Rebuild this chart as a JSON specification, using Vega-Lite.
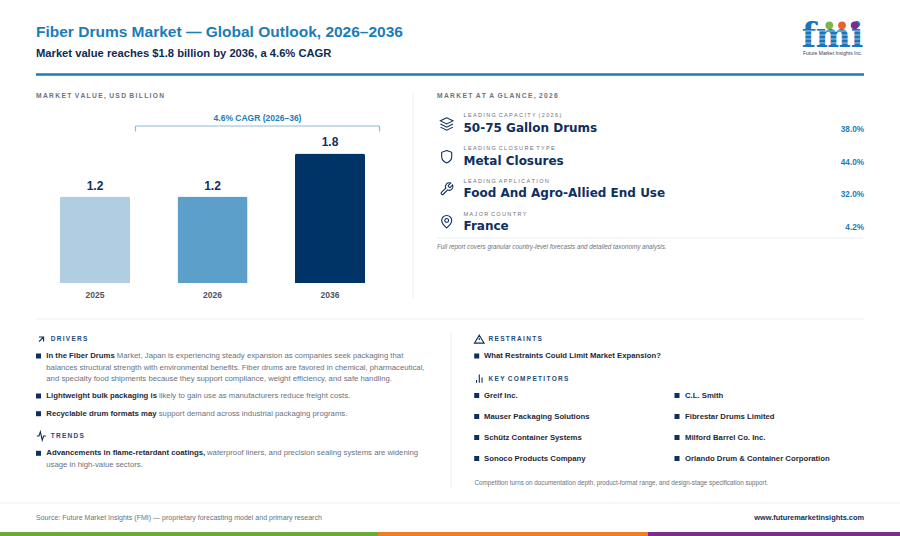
{
"$schema":"https://vega.github.io/schema/vega-lite/v6.json",
"width":900,"height":536,"padding":0,"autosize":{"type":"none"},
"background":"#ffffff",
"config":{"font":"Liberation Sans","view":{"stroke":null}},
"resolve":{"scale":{"x":"independent","y":"independent","color":"independent","shape":"independent"}},
"layer":[
{"data":{"values":[{"name":"green","start":1,"end":2,"top":1,"bottom":2},{"name":"orange","start":2,"end":3,"top":1,"bottom":2},{"name":"purple","start":3,"end":4,"top":1,"bottom":2}]},
 "mark":{"type":"rect"},
 "encoding":{"x":{"field":"start","type":"quantitative","scale":{"domain":[1,2,3,4],"range":[0,378,648,900]},"axis":null},"x2":{"field":"end"},
 "y":{"field":"top","type":"quantitative","scale":{"domain":[1,2],"range":[532,536]},"axis":null},"y2":{"field":"bottom"},
 "color":{"field":"name","type":"nominal","scale":{"domain":["green","orange","purple"],"range":["#6aaa3a","#ee7d23","#7b2d8b"]},"legend":null}}},
{"data":{"values":[{"a":3,"b":3,"c":1,"d":3},{"a":2,"b":6,"c":4,"d":4},{"a":5,"b":5,"c":5,"d":6},{"a":1,"b":7,"c":7,"d":7},{"a":4,"b":6,"c":2,"d":2}]},
 "mark":{"type":"rule","stroke":"#eceef0","strokeWidth":1},
 "encoding":{"x":{"field":"a","type":"quantitative","scale":{"domain":[1,2,3,4,5,6,7],"range":[0,36,413,437,451,864,900]},"axis":null},"x2":{"field":"b"},
 "y":{"field":"c","type":"quantitative","scale":{"domain":[1,2,3,4,5,6,7],"range":[93,238,298,319,332,488,503]},"axis":null},"y2":{"field":"d"}}},
{"data":{"values":[{"a":1,"b":2,"c":1,"d":1}]},
 "mark":{"type":"rule","stroke":"#1a7db8","strokeWidth":2.5},
 "encoding":{"x":{"field":"a","type":"quantitative","scale":{"domain":[1,2],"range":[36,864]},"axis":null},"x2":{"field":"b"},
 "y":{"field":"c","type":"quantitative","scale":{"domain":[1,2],"range":[74.5,75.5]},"axis":null},"y2":{"field":"d"}}},
{"data":{"values":[{"a":1,"b":2,"c":1,"d":1},{"a":1,"b":1,"c":1,"d":2},{"a":2,"b":2,"c":1,"d":2}]},
 "mark":{"type":"rule","stroke":"#8dbcd6","strokeWidth":1.2},
 "encoding":{"x":{"field":"a","type":"quantitative","scale":{"domain":[1,2],"range":[135.5,379.5]},"axis":null},"x2":{"field":"b"},
 "y":{"field":"c","type":"quantitative","scale":{"domain":[1,2],"range":[126,131.5]},"axis":null},"y2":{"field":"d"}}},
{"data":{"values":[{"year":"2025","value":1.2},{"year":"2026","value":1.2},{"year":"2036","value":1.8}]},
 "encoding":{"x":{"field":"year","type":"ordinal","scale":{"type":"band","domain":["2025","2026","2036"],"range":[36.5,388.5],"paddingInner":0.404,"paddingOuter":0.2},
   "axis":{"title":null,"offset":-253,"domain":false,"ticks":false,"labelAngle":0,"labelFont":"Liberation Sans","labelFontWeight":"bold","labelFontSize":8.5,"labelColor":"#4b5563","labelPadding":7}},
  "y":{"field":"value","type":"quantitative","scale":{"domain":[0,2],"range":[283,139]},"axis":null}},
 "layer":[
  {"mark":{"type":"bar","cornerRadiusTopLeft":2,"cornerRadiusTopRight":2},
   "encoding":{"color":{"field":"year","type":"nominal","scale":{"domain":["2025","2026","2036"],"range":["#b0cde2","#5c9fcb","#003366"]},"legend":null}}},
  {"mark":{"type":"text","fontWeight":"bold","fontSize":12,"fill":"#0f2f5f","baseline":"bottom","dy":-4},
   "encoding":{"text":{"field":"value","type":"quantitative","format":".1f"}}}
 ]},
{"data":{"values":[{"c":1,"r":1,"label":"Fiber Drums Market \u2014 Global Outlook, 2026\u20132036"}]},
 "mark":{"type":"text","align":"left","baseline":"middle","fontWeight":"bold","fontSize":15.5,"fill":"#1a7db8"},
 "encoding":{"x":{"field":"c","type":"quantitative","scale":{"domain":[1,2],"range":[36,37]},"axis":null},
 "y":{"field":"r","type":"quantitative","scale":{"domain":[1,2],"range":[32,33]},"axis":null},"text":{"field":"label"}}},
{"data":{"values":[{"c":1,"r":1,"label":"Market value reaches $1.8 billion by 2036, a 4.6% CAGR"}]},
 "mark":{"type":"text","align":"left","baseline":"middle","fontWeight":"bold","fontSize":11.2,"fill":"#0f2a52"},
 "encoding":{"x":{"field":"c","type":"quantitative","scale":{"domain":[1,2],"range":[36,37]},"axis":null},
 "y":{"field":"r","type":"quantitative","scale":{"domain":[1,2],"range":[53.5,54.5]},"axis":null},"text":{"field":"label"}}},
{"data":{"values":[{"c":1,"r":1,"label":"4.6% CAGR (2026\u201336)"}]},
 "mark":{"type":"text","align":"center","baseline":"middle","fontWeight":"bold","fontSize":8.5,"fill":"#1a7db8"},
 "encoding":{"x":{"field":"c","type":"quantitative","scale":{"domain":[1,2],"range":[257.5,258.5]},"axis":null},
 "y":{"field":"r","type":"quantitative","scale":{"domain":[1,2],"range":[117.5,118.5]},"axis":null},"text":{"field":"label"}}},
{"data":{"values":[
 {"c":1,"r":1,"label":"M\u2009A\u2009R\u2009K\u2009E\u2009T\u2002V\u2009A\u2009L\u2009U\u2009E\u2009,\u2002U\u2009S\u2009D\u2002B\u2009I\u2009L\u2009L\u2009I\u2009O\u2009N"},
 {"c":2,"r":1,"label":"M\u2009A\u2009R\u2009K\u2009E\u2009T\u2002A\u2009T\u2002A\u2002G\u2009L\u2009A\u2009N\u2009C\u2009E\u2009,\u20022\u20090\u20092\u20096"}]},
 "mark":{"type":"text","align":"left","baseline":"middle","fontWeight":"bold","fontSize":6.7,"fill":"#6b7280"},
 "encoding":{"x":{"field":"c","type":"quantitative","scale":{"domain":[1,2],"range":[36,437]},"axis":null},
 "y":{"field":"r","type":"quantitative","scale":{"domain":[1,2],"range":[96,97]},"axis":null},"text":{"field":"label"}}},
{"data":{"values":[
 {"r":1,"label":"L\u2005E\u2005A\u2005D\u2005I\u2005N\u2005G\u2002C\u2005A\u2005P\u2005A\u2005C\u2005I\u2005T\u2005Y\u2002(\u20052\u20050\u20052\u20056\u2005)"},
 {"r":2,"label":"L\u2005E\u2005A\u2005D\u2005I\u2005N\u2005G\u2002C\u2005L\u2005O\u2005S\u2005U\u2005R\u2005E\u2002T\u2005Y\u2005P\u2005E"},
 {"r":3,"label":"L\u2005E\u2005A\u2005D\u2005I\u2005N\u2005G\u2002A\u2005P\u2005P\u2005L\u2005I\u2005C\u2005A\u2005T\u2005I\u2005O\u2005N"},
 {"r":4,"label":"M\u2005A\u2005J\u2005O\u2005R\u2002C\u2005O\u2005U\u2005N\u2005T\u2005R\u2005Y"}]},
 "mark":{"type":"text","align":"left","baseline":"middle","fontSize":5.5,"fill":"#6b7280"},
 "encoding":{"x":{"datum":1,"type":"quantitative","scale":{"domain":[1,2],"range":[463.5,464.5]},"axis":null},
 "y":{"field":"r","type":"quantitative","scale":{"domain":[1,2,3,4],"range":[115,148,181,214]},"axis":null},"text":{"field":"label"}}},
{"data":{"values":[
 {"r":1,"label":"50-75 Gallon Drums"},
 {"r":2,"label":"Metal Closures"},
 {"r":3,"label":"Food And Agro-Allied End Use"},
 {"r":4,"label":"France"}]},
 "mark":{"type":"text","align":"left","baseline":"middle","font":"DejaVu Sans","fontWeight":"bold","fontSize":12,"fill":"#0f2f5f"},
 "encoding":{"x":{"datum":1,"type":"quantitative","scale":{"domain":[1,2],"range":[463.5,464.5]},"axis":null},
 "y":{"field":"r","type":"quantitative","scale":{"domain":[1,2,3,4],"range":[127.5,160.5,193,226]},"axis":null},"text":{"field":"label"}}},
{"data":{"values":[
 {"r":1,"share":"38.0%"},
 {"r":2,"share":"44.0%"},
 {"r":3,"share":"32.0%"},
 {"r":4,"share":"4.2%"}]},
 "mark":{"type":"text","align":"right","baseline":"middle","fontWeight":"bold","fontSize":8.2,"fill":"#1a7db8"},
 "encoding":{"x":{"datum":1,"type":"quantitative","scale":{"domain":[1,2],"range":[864,865]},"axis":null},
 "y":{"field":"r","type":"quantitative","scale":{"domain":[1,2,3,4],"range":[129.5,162.5,195,228]},"axis":null},"text":{"field":"share"}}},
{"data":{"values":[{"c":1,"r":1,"label":"Full report covers granular country-level forecasts and detailed taxonomy analysis."}]},
 "mark":{"type":"text","align":"left","baseline":"middle","fontStyle":"italic","fontSize":6.3,"fill":"#6b7280"},
 "encoding":{"x":{"field":"c","type":"quantitative","scale":{"domain":[1,2],"range":[437,438]},"axis":null},
 "y":{"field":"r","type":"quantitative","scale":{"domain":[1,2],"range":[247,248]},"axis":null},"text":{"field":"label"}}},
{"data":{"values":[
 {"c":1,"r":1,"label":"D\u2009R\u2009I\u2009V\u2009E\u2009R\u2009S"},
 {"c":1,"r":3,"label":"T\u2009R\u2009E\u2009N\u2009D\u2009S"},
 {"c":2,"r":1,"label":"R\u2009E\u2009S\u2009T\u2009R\u2009A\u2009I\u2009N\u2009T\u2009S"},
 {"c":2,"r":2,"label":"K\u2009E\u2009Y\u2002C\u2009O\u2009M\u2009P\u2009E\u2009T\u2009I\u2009T\u2009O\u2009R\u2009S"}]},
 "mark":{"type":"text","align":"left","baseline":"middle","fontWeight":"bold","fontSize":6.5,"fill":"#1f4a7a"},
 "encoding":{"x":{"field":"c","type":"quantitative","scale":{"domain":[1,2],"range":[50.7,488.5]},"axis":null},
 "y":{"field":"r","type":"quantitative","scale":{"domain":[1,2,3],"range":[339,378.5,436]},"axis":null},"text":{"field":"label"}}},
{"data":{"values":[{"r":1,"label":"In the Fiber Drums"},{"r":2,"label":"Lightweight bulk packaging is"},{"r":3,"label":"Recyclable drum formats may"},{"r":4,"label":"Advancements in flame-retardant coatings,"}]},
 "mark":{"type":"text","align":"left","baseline":"middle","fontWeight":"bold","fontSize":7.75,"fill":"#1f2937"},
 "encoding":{"x":{"datum":1,"type":"quantitative","scale":{"domain":[1,2],"range":[46.3,47.3]},"axis":null},
 "y":{"field":"r","type":"quantitative","scale":{"domain":[1,2,3,4],"range":[356.3,396.3,413.8,453.3]},"axis":null},"text":{"field":"label"}}},
{"data":{"values":[
 {"c":2,"r":1,"label":"Market, Japan is experiencing steady expansion as companies seek packaging that"},
 {"c":1,"r":2,"label":"balances structural strength with environmental benefits. Fiber drums are favored in chemical, pharmaceutical,"},
 {"c":1,"r":3,"label":"and specialty food shipments because they support compliance, weight efficiency, and safe handling."},
 {"c":4,"r":4,"label":"likely to gain use as manufacturers reduce freight costs."},
 {"c":3,"r":5,"label":"support demand across industrial packaging programs."},
 {"c":5,"r":6,"label":"waterproof liners, and precision sealing systems are widening"},
 {"c":1,"r":7,"label":"usage in high-value sectors."}]},
 "mark":{"type":"text","align":"left","baseline":"middle","fontSize":7.75,"fill":"#6b7280"},
 "encoding":{"x":{"field":"c","type":"quantitative","scale":{"domain":[1,2,3,4,5],"range":[46.3,116.8,158.7,159,207]},"axis":null},
 "y":{"field":"r","type":"quantitative","scale":{"domain":[1,2,3,4,5,6,7],"range":[356.3,367.5,379,396.3,413.8,453.3,464.5]},"axis":null},"text":{"field":"label"}}},
{"data":{"values":[
 {"c":1,"r":1,"label":"What Restraints Could Limit Market Expansion?"},
 {"c":1,"r":2,"label":"Greif Inc."},{"c":2,"r":2,"label":"C.L. Smith"},
 {"c":1,"r":3,"label":"Mauser Packaging Solutions"},{"c":2,"r":3,"label":"Fibrestar Drums Limited"},
 {"c":1,"r":4,"label":"Sch\u00fctz Container Systems"},{"c":2,"r":4,"label":"Milford Barrel Co. Inc."},
 {"c":1,"r":5,"label":"Sonoco Products Company"},{"c":2,"r":5,"label":"Orlando Drum & Container Corporation"}]},
 "mark":{"type":"text","align":"left","baseline":"middle","fontWeight":"bold","fontSize":7.75,"fill":"#1f2937"},
 "encoding":{"x":{"field":"c","type":"quantitative","scale":{"domain":[1,2],"range":[484,685]},"axis":null},
 "y":{"field":"r","type":"quantitative","scale":{"domain":[1,2,3,4,5],"range":[356.3,395.7,416.7,437.7,458.7]},"axis":null},"text":{"field":"label"}}},
{"data":{"values":[
 {"c":1,"r":1},{"c":1,"r":4},{"c":1,"r":6},{"c":1,"r":9},
 {"c":2,"r":1},{"c":2,"r":3},{"c":2,"r":5},{"c":2,"r":7},{"c":2,"r":8},
 {"c":3,"r":3},{"c":3,"r":5},{"c":3,"r":7},{"c":3,"r":8}]},
 "mark":{"type":"point","shape":"square","filled":true,"size":25,"fill":"#0f2f5f","opacity":1},
 "encoding":{"x":{"field":"c","type":"quantitative","scale":{"domain":[1,2,3],"range":[38.5,476.7,677]},"axis":null},
 "y":{"field":"r","type":"quantitative","scale":{"domain":[1,3,4,5,6,7,8,9],"range":[356,395.5,396,416.5,413.7,437.5,458.5,453.3]},"axis":null}}},
{"data":{"values":[{"c":1,"r":1,"label":"Competition turns on documentation depth, product-format range, and design-stage specification support."}]},
 "mark":{"type":"text","align":"left","baseline":"middle","fontSize":6.3,"fill":"#6b7280"},
 "encoding":{"x":{"field":"c","type":"quantitative","scale":{"domain":[1,2],"range":[474.5,475.5]},"axis":null},
 "y":{"field":"r","type":"quantitative","scale":{"domain":[1,2],"range":[482.5,483.5]},"axis":null},"text":{"field":"label"}}},
{"data":{"values":[{"c":1,"r":1,"label":"Source: Future Market Insights (FMI) \u2014 proprietary forecasting model and primary research"}]},
 "mark":{"type":"text","align":"left","baseline":"middle","fontSize":7.05,"fill":"#6b7280"},
 "encoding":{"x":{"field":"c","type":"quantitative","scale":{"domain":[1,2],"range":[36,37]},"axis":null},
 "y":{"field":"r","type":"quantitative","scale":{"domain":[1,2],"range":[517.5,518.5]},"axis":null},"text":{"field":"label"}}},
{"data":{"values":[{"c":1,"r":1,"label":"www.futuremarketinsights.com"}]},
 "mark":{"type":"text","align":"right","baseline":"middle","fontWeight":"bold","fontSize":7.4,"fill":"#0f2f5f"},
 "encoding":{"x":{"field":"c","type":"quantitative","scale":{"domain":[1,2],"range":[864,865]},"axis":null},
 "y":{"field":"r","type":"quantitative","scale":{"domain":[1,2],"range":[518,519]},"axis":null},"text":{"field":"label"}}},
{"data":{"values":[{"r":1,"icon":"layers"},{"r":2,"icon":"shield"},{"r":3,"icon":"wrench"},{"r":4,"icon":"pin"}]},
 "mark":{"type":"point","filled":false,"size":225,"stroke":"#0f2f5f","strokeWidth":1.1,"opacity":1},
 "encoding":{"x":{"datum":1,"type":"quantitative","scale":{"domain":[1,2],"range":[446.7,447.7]},"axis":null},
 "y":{"field":"r","type":"quantitative","scale":{"domain":[1,2,3,4],"range":[124,156.7,189,221.7]},"axis":null},
 "shape":{"field":"icon","type":"nominal","legend":null,"scale":{"domain":["layers","shield","wrench","pin"],"range":[
  "M0 -.833 L-.833 -.417 L0 0 L.833 -.417 Z M-.833 0 L0 .417 L.833 0 M-.833 .417 L0 .833 L.833 .417",
  "M0 -.83 L.67 -.58 V0 C.67 .45 .3 .7 0 .83 C-.3 .7 -.67 .45 -.67 0 V-.58 Z",
  "M.225 -.475 a.083 .083 0 0 0 0 .117 l.133 .133 a.083 .083 0 0 0 .117 0 l.314 -.314 a.5 .5 0 0 1 -.662 .662 l-.576 .576 a.177 .177 0 0 1 -.25 -.25 l.576 -.576 a.5 .5 0 0 1 .662 -.662 l-.313 .313 z",
  "M.667 -.167 C.667 .25 0 .83 0 .83 C0 .83 -.667 .25 -.667 -.167 A.667 .667 0 0 1 .667 -.167 Z M.25 -.167 A.25 .25 0 1 1 -.25 -.167 A.25 .25 0 1 1 .25 -.167 Z"]}}}},
{"data":{"values":[{"c":1,"r":1,"icon":"arrow"},{"c":1,"r":3,"icon":"activity"},{"c":2,"r":1,"icon":"alert"},{"c":2,"r":2,"icon":"bars"}]},
 "mark":{"type":"point","filled":false,"size":121,"stroke":"#0f2f5f","strokeWidth":1.1,"opacity":1},
 "encoding":{"x":{"field":"c","type":"quantitative","scale":{"domain":[1,2],"range":[41.3,479.3]},"axis":null},
 "y":{"field":"r","type":"quantitative","scale":{"domain":[1,2,3],"range":[339.3,378.5,436]},"axis":null},
 "shape":{"field":"icon","type":"nominal","legend":null,"scale":{"domain":["arrow","activity","alert","bars"],"range":[
  "M-.417 .417 L.417 -.417 M-.417 -.417 H.417 V.417",
  "M-.83 0 H-.42 L-.17 -.75 L.17 .75 L.42 0 H.83",
  "M0 -.75 L.88 .7 H-.88 Z M0 -.25 V.15 M0 .42 V.43",
  "M-.5 .75 V.25 M0 .75 V-.75 M.5 .75 V-.17"]}}}},
{"data":{"values":[{"c":1,"r":1,"label":"fmi"}]},
 "mark":{"type":"text","align":"center","baseline":"alphabetic","font":"DejaVu Serif","fontWeight":"bold","fontSize":33,"fill":"#1a75bb"},
 "encoding":{"x":{"field":"c","type":"quantitative","scale":{"domain":[1,2],"range":[832.5,833.5]},"axis":null},
 "y":{"field":"r","type":"quantitative","scale":{"domain":[1,2],"range":[47,48]},"axis":null},"text":{"field":"label"}}},
{"data":{"values":[{"a":1,"b":2,"c":1},{"a":1,"b":2,"c":2},{"a":1,"b":2,"c":3},{"a":1,"b":2,"c":4}]},
 "mark":{"type":"rule","stroke":"#ffffff","strokeWidth":0.6},
 "encoding":{"x":{"field":"a","type":"quantitative","scale":{"domain":[1,2],"range":[800,865]},"axis":null},"x2":{"field":"b"},
 "y":{"field":"c","type":"quantitative","scale":{"domain":[1,2,3,4],"range":[31,35,39,43]},"axis":null}}},
{"data":{"values":[{"c":1,"name":"green"},{"c":2,"name":"orange"},{"c":3,"name":"purple"}]},
 "mark":{"type":"point","shape":"circle","filled":true,"size":60,"opacity":1},
 "encoding":{"x":{"field":"c","type":"quantitative","scale":{"domain":[1,2,3],"range":[829.3,842,854.7]},"axis":null},
 "y":{"datum":1,"type":"quantitative","scale":{"domain":[1,2],"range":[25.3,26.3]},"axis":null},
 "color":{"field":"name","type":"nominal","scale":{"domain":["green","orange","purple"],"range":["#7ab648","#e8622a","#7b2d8b"]},"legend":null}}},
{"data":{"values":[{"c":1,"r":1,"label":"Future Market Insights Inc."}]},
 "mark":{"type":"text","align":"center","baseline":"middle","fontSize":5,"fill":"#374151"},
 "encoding":{"x":{"field":"c","type":"quantitative","scale":{"domain":[1,2],"range":[832.5,833.5]},"axis":null},
 "y":{"field":"r","type":"quantitative","scale":{"domain":[1,2],"range":[52.5,53.5]},"axis":null},"text":{"field":"label"}}}
]
}
